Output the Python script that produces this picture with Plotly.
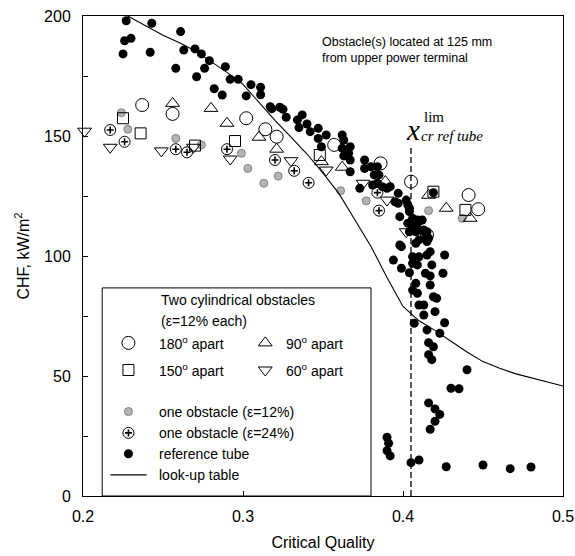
import plotly.graph_objects as go

# ---------------- data ----------------
# reference tube (filled black dots)
ref_x = [0.227, 0.243, 0.226, 0.230, 0.225, 0.242, 0.261, 0.263, 0.258, 0.270,
         0.274, 0.279, 0.276, 0.271, 0.289, 0.292, 0.297, 0.282, 0.287, 0.302,
         0.305, 0.311, 0.311, 0.317, 0.318, 0.323, 0.325, 0.327, 0.334, 0.337,
         0.335, 0.340, 0.342, 0.347, 0.347, 0.349, 0.352, 0.362, 0.363, 0.362,
         0.367, 0.366, 0.363, 0.367, 0.367, 0.376, 0.376, 0.380, 0.384, 0.382,
         0.385, 0.373, 0.381, 0.384, 0.387, 0.390, 0.392, 0.397, 0.395, 0.397,
         0.402, 0.403, 0.404, 0.419, 0.398, 0.404, 0.406, 0.403, 0.407, 0.409,
         0.410, 0.412, 0.406, 0.404, 0.408, 0.410, 0.413, 0.414, 0.415, 0.414,
         0.416, 0.415, 0.398, 0.399, 0.408, 0.410, 0.394, 0.399, 0.406, 0.406,
         0.409, 0.410, 0.415, 0.417, 0.418, 0.414, 0.417, 0.417, 0.408, 0.404,
         0.406, 0.409, 0.419, 0.421, 0.410, 0.413, 0.413, 0.420, 0.426, 0.425,
         0.407, 0.415, 0.423, 0.426, 0.416, 0.419, 0.416, 0.418, 0.440, 0.430,
         0.435, 0.416, 0.420, 0.423, 0.420, 0.417, 0.390, 0.391, 0.390, 0.392,
         0.405, 0.410, 0.427, 0.450, 0.467, 0.480]
ref_y = [198.0, 197.0, 189.7, 190.7, 184.2, 184.9, 193.5, 185.8, 178.2, 186.3,
         184.2, 181.4, 178.2, 174.7, 178.9, 173.6, 173.6, 169.7, 167.1, 166.7,
         171.4, 170.3, 167.2, 162.2, 161.4, 162.0, 161.1, 157.8, 156.7, 158.8,
         153.5, 155.0, 151.8, 153.2, 149.0, 145.5, 150.4, 150.4, 148.3, 144.9,
         145.5, 142.8, 141.7, 140.0, 135.1, 140.0, 136.5, 137.2, 137.2, 133.8,
         133.8, 128.2, 129.6, 130.3, 128.9, 128.2, 128.9, 126.1, 122.6, 122.0,
         123.3, 121.3, 119.9, 126.4, 116.4, 118.5, 115.7, 113.6, 113.6, 115.0,
         114.3, 115.0, 111.5, 110.1, 110.1, 110.8, 110.8, 109.5, 110.1, 107.4,
         107.4, 106.0, 104.6, 103.9, 105.3, 106.7, 98.3, 94.9, 99.7, 97.0,
         96.3, 99.7, 100.4, 101.8, 96.3, 92.8, 91.7, 87.9, 88.6, 93.0,
         85.8, 84.5, 83.0, 82.4, 79.6, 79.6, 75.4, 76.8, 100.4, 92.8,
         72.0, 69.2, 67.8, 72.2, 63.9, 62.2, 58.9, 56.8, 52.6, 44.9,
         44.7, 38.8, 36.3, 34.0, 31.1, 27.8, 24.5, 22.0, 18.9, 16.7,
         13.9, 15.0, 12.2, 12.9, 11.4, 12.1]

# two obstacles, 180 deg apart (open circles)
c180_x = [0.237, 0.256, 0.302, 0.314, 0.321, 0.357, 0.386, 0.405, 0.441, 0.447, 0.415]
c180_y = [162.9, 159.2, 157.4, 152.8, 149.7, 146.3, 138.6, 131.0, 125.4, 119.5, 108.8]

# two obstacles, 90 deg apart (open up-triangles)
t90_x = [0.256, 0.280, 0.290, 0.310, 0.321, 0.349, 0.362, 0.389, 0.416, 0.427, 0.442]
t90_y = [163.6, 161.5, 155.3, 149.5, 144.5, 139.3, 137.0, 131.0, 125.3, 119.9, 115.7]

# two obstacles, 150 deg apart (open squares)
s150_x = [0.225, 0.236, 0.270, 0.295, 0.348, 0.419, 0.439]
s150_y = [157.4, 151.1, 146.0, 147.9, 142.1, 126.8, 119.2]

# two obstacles, 60 deg apart (open down-triangles)
t60_x = [0.201, 0.217, 0.249, 0.269, 0.292, 0.330, 0.352, 0.375, 0.390, 0.402]
t60_y = [152.0, 145.3, 143.8, 145.3, 140.4, 139.7, 135.8, 130.3, 123.3, 110.1]

# one obstacle eps=24% (dotted circles)
o24_x = [0.217, 0.226, 0.258, 0.265, 0.290, 0.320, 0.332, 0.341, 0.384, 0.385]
o24_y = [152.5, 147.6, 144.5, 143.2, 144.5, 140.0, 135.5, 130.5, 126.4, 118.9]

# one obstacle eps=12% (gray dots)
o12_x = [0.224, 0.228, 0.258, 0.274, 0.299, 0.303, 0.313, 0.322, 0.361, 0.377, 0.416, 0.437]
o12_y = [159.7, 152.8, 149.0, 146.3, 142.8, 136.5, 130.3, 133.3, 127.2, 123.0, 118.9, 115.7]

# look-up table curve
lut_x = [0.228, 0.24, 0.25, 0.26, 0.27, 0.28, 0.29, 0.30, 0.31, 0.32, 0.33, 0.34,
         0.35, 0.36, 0.37, 0.38, 0.39, 0.40, 0.41, 0.42, 0.43, 0.44, 0.45, 0.46,
         0.47, 0.48, 0.49, 0.50]
lut_y = [200, 195.5, 192, 189, 185.5, 181, 176.5, 171.5, 164, 156.5, 149.5, 142.5,
         134.5, 126, 115, 104, 91, 79, 73, 69, 64.5, 60, 56, 53.3,
         51, 49.3, 47.5, 45.8]

x_lim_ref = 0.405

# ---------------- figure ----------------
FONT = "Liberation Sans, Arial, Helvetica, sans-serif"
SERIF = "Liberation Serif, Times New Roman, serif"

fig = go.Figure()

def add_markers(xs, ys, **marker):
    fig.add_trace(go.Scatter(x=xs, y=ys, mode="markers", marker=marker,
                             showlegend=False, hoverinfo="skip", cliponaxis=False))

sty_gray = dict(symbol="circle", size=8, color="#b4b4b4", line=dict(color="#6e6e6e", width=0.8))
sty_c180 = dict(symbol="circle-open", size=13, color="black", line=dict(width=1))
sty_t90 = dict(symbol="triangle-up-open", size=12, color="black", line=dict(width=1))
sty_s150 = dict(symbol="square-open", size=11, color="black", line=dict(width=1))
sty_t60 = dict(symbol="triangle-down-open", size=12, color="black", line=dict(width=1))
sty_o24 = dict(symbol="circle-open", size=11, color="black", line=dict(width=1))
sty_o24c = dict(symbol="cross-thin-open", size=5, color="black", line=dict(width=1.6))
sty_ref = dict(symbol="circle", size=9, color="black", line=dict(width=0))

add_markers(o12_x, o12_y, **sty_gray)
add_markers(c180_x, c180_y, **sty_c180)
add_markers(t90_x, t90_y, **sty_t90)
add_markers(s150_x, s150_y, **sty_s150)
add_markers(t60_x, t60_y, **sty_t60)
add_markers(o24_x, o24_y, **sty_o24)
add_markers(o24_x, o24_y, **sty_o24c)
add_markers(ref_x, ref_y, **sty_ref)

fig.add_trace(go.Scatter(x=lut_x, y=lut_y, mode="lines", line=dict(color="black", width=1.1),
                         showlegend=False, hoverinfo="skip"))

# ---------------- custom legend ----------------
lx_mark = 0.2284
lx_mark2 = 0.3139
lx_text = 0.2465
lx_text2 = 0.3255
row = {"t1": 81.5, "t2": 73.0, "r1": 63.8, "r2": 52.5, "g": 35.2, "d": 26.3, "b": 17.6, "l": 8.8}

fig.add_shape(type="rect", x0=0.212, x1=0.380, y0=0, y1=86.7, line=dict(color="black", width=1))
add_markers([lx_mark], [row["r1"]], **sty_c180)
add_markers([lx_mark], [row["r2"]], **sty_s150)
add_markers([lx_mark2], [row["r1"]], **sty_t90)
add_markers([lx_mark2], [row["r2"]], **sty_t60)
add_markers([lx_mark], [row["g"]], **sty_gray)
add_markers([lx_mark], [row["d"]], **sty_o24)
add_markers([lx_mark], [row["d"]], **sty_o24c)
add_markers([lx_mark], [row["b"]], **sty_ref)
fig.add_trace(go.Scatter(x=[0.2172, 0.2397], y=[row["l"], row["l"]], mode="lines",
                         line=dict(color="black", width=1.1), showlegend=False, hoverinfo="skip"))

legend_texts = [
    (0.2475, row["t1"], "Two cylindrical obstacles"),
    (0.2475, row["t2"], "(\u03b5=12% each)"),
    (lx_text, row["r1"], "180<sup>o</sup> apart"),
    (lx_text2, row["r1"], "90<sup>o</sup> apart"),
    (lx_text, row["r2"], "150<sup>o</sup> apart"),
    (lx_text2, row["r2"], "60<sup>o</sup> apart"),
    (lx_text, row["g"], "one obstacle (\u03b5=12%)"),
    (lx_text, row["d"], "one obstacle (\u03b5=24%)"),
    (lx_text, row["b"], "reference tube"),
    (lx_text, row["l"], "look-up table"),
]
for x, y, t in legend_texts:
    fig.add_annotation(x=x, y=y, text=t, showarrow=False, xanchor="left", yanchor="middle",
                       font=dict(family=FONT, size=14, color="black"))

# ---------------- annotations ----------------
fig.add_annotation(x=0.3480, y=193, text="Obstacle(s) located at 125 mm<br>from upper power terminal",
                   showarrow=False, xanchor="left", yanchor="top", align="left",
                   font=dict(family=FONT, size=12.5, color="black"))

fig.add_shape(type="line", x0=x_lim_ref, x1=x_lim_ref, y0=0, y1=145,
              line=dict(color="black", width=1.3, dash="6px,3px"))

fig.add_annotation(x=0.4060, y=152.5, text="<i>x</i>", showarrow=False, xanchor="center", yanchor="middle",
                   font=dict(family=SERIF, size=29, color="black"))
fig.add_annotation(x=0.4120, y=158.0, text="lim", showarrow=False, xanchor="left", yanchor="middle",
                   font=dict(family=SERIF, size=15, color="black"))
fig.add_annotation(x=0.4100, y=150.0, text="<i>cr ref tube</i>", showarrow=False, xanchor="left", yanchor="middle",
                   font=dict(family=SERIF, size=15, color="black"))

# ---------------- axes/layout ----------------
fig.update_xaxes(range=[0.2, 0.5], tickvals=[0.2, 0.3, 0.4, 0.5], ticktext=["0.2", "0.3", "0.4", "0.5"],
                 ticks="inside", ticklen=5, tickcolor="black", showline=True, linecolor="black",
                 linewidth=1, mirror=True, showgrid=False, zeroline=False, ticklabelstandoff=6,
                 automargin=False,
                 title=dict(text="Critical Quality", font=dict(family=FONT, size=16, color="black"), standoff=12),
                 tickfont=dict(family=FONT, size=16, color="black"))
fig.update_yaxes(range=[0, 200], tickvals=[0, 50, 100, 150, 200],
                 ticks="inside", ticklen=5, tickcolor="black", showline=True, linecolor="black",
                 linewidth=1, mirror=True, showgrid=False, zeroline=False, ticklabelstandoff=8,
                 automargin=False,
                 minor=dict(tickvals=[25, 75, 125, 175], ticks="inside", ticklen=5, tickcolor="black"),
                 title=dict(text="CHF, kW/m<sup>2</sup>", font=dict(family=FONT, size=16, color="black"), standoff=10),
                 tickfont=dict(family=FONT, size=16, color="black"))

fig.update_layout(width=575, height=556, margin=dict(l=83, r=12, t=16, b=60),
                  plot_bgcolor="white", paper_bgcolor="white", showlegend=False,
                  font=dict(family=FONT, color="black"))

fig.write_html("out.html")
